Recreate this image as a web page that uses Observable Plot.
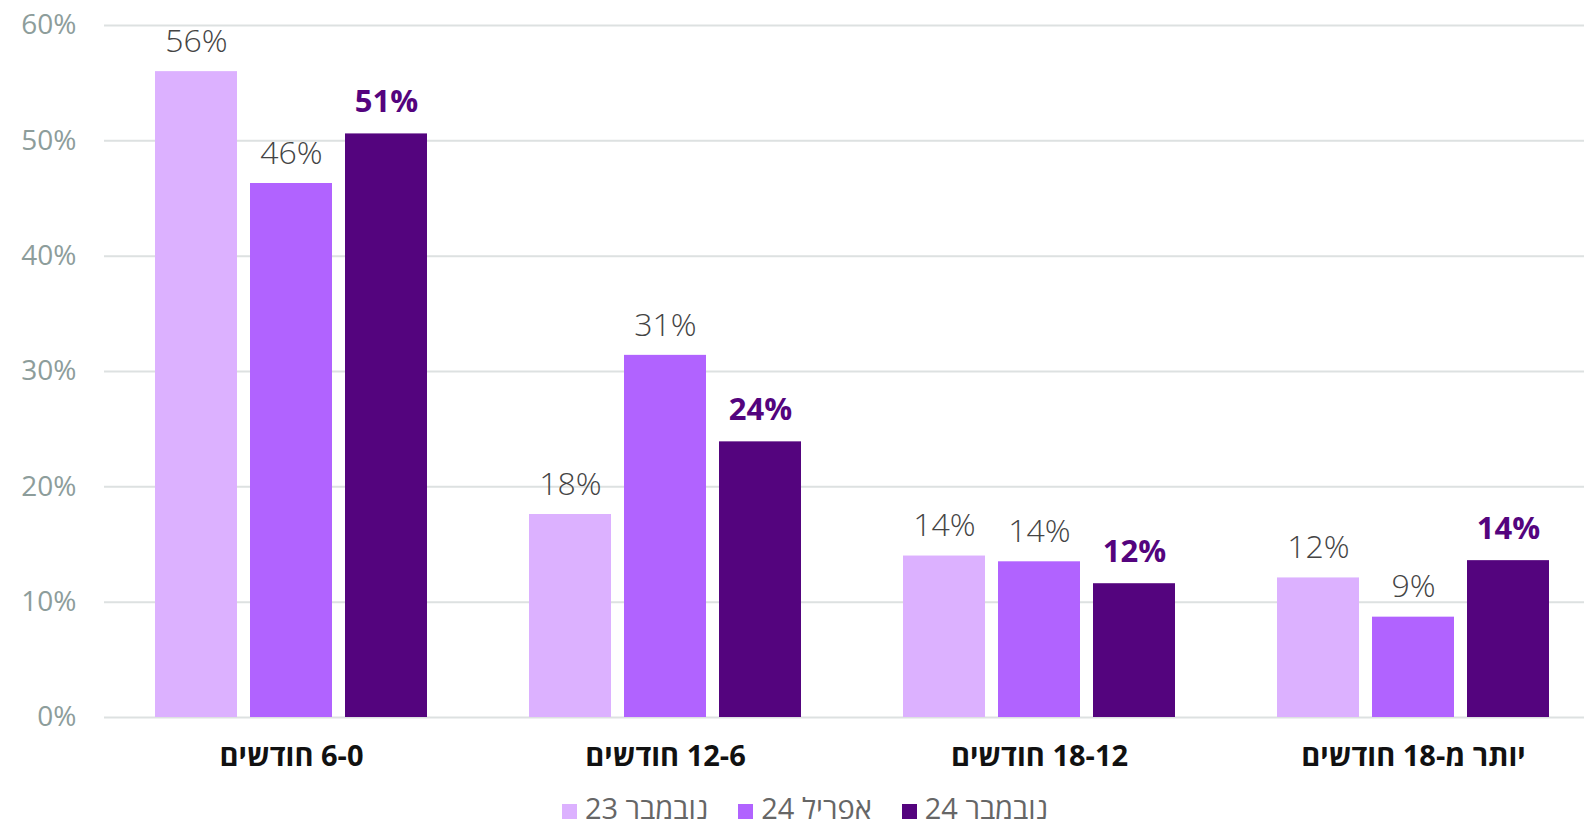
<!DOCTYPE html>
<html>
<head>
<meta charset="utf-8">
<script src="https://cdn.jsdelivr.net/npm/d3@7"></script>
<script src="https://cdn.jsdelivr.net/npm/@observablehq/plot@0.6"></script>
<style>
  html, body { margin: 0; padding: 0; background: #ffffff; overflow: hidden; width: 1584px; }
  #chart { width: 1584px; overflow: hidden; }
  #chart svg { display: block; max-width: none; }
  #legend {
    width: 1584px; height: 35px; line-height: 35px;
    display: flex; justify-content: center; align-items: baseline;
    font-family: 'Open Sans', 'DejaVu Sans', sans-serif; font-size: 29px; color: #666666;
    padding-left: 26px; box-sizing: border-box; white-space: nowrap;
  }
  .item { display: inline-flex; align-items: baseline; margin: 0 15px; }
  .sw { display: inline-block; width: 15px; height: 15px; margin-right: 8px; }
</style>
</head>
<body>
<div id="chart"></div>
<div id="legend"></div>
<script>
const groups = ["6-0 חודשים", "12-6 חודשים", "18-12 חודשים", "יותר מ-18 חודשים"];
const seriesNames = ["נובמבר 23", "אפריל 24", "נובמבר 24"];
const nov23 = [56.0, 17.6, 14.0, 12.1];
const apr24 = [46.3, 31.4, 13.5, 8.7];
const nov24 = [50.6, 23.9, 11.6, 13.6];
const yTicks = [0, 10, 20, 30, 40, 50, 60];
const colors = ["#dcb1ff", "#b163ff", "#54047e"];

const seriesValues = [nov23, apr24, nov24];
const data = [];
groups.forEach((g, i) => {
  seriesNames.forEach((s, j) => {
    data.push({group: g, series: s, value: seriesValues[j][i]});
  });
});
const highlight = seriesNames[2];

const chart = Plot.plot({
  width: 1601,
  height: 790,
  marginLeft: 103,
  marginRight: 0,
  marginTop: 25,
  marginBottom: 73,
  style: {fontFamily: "'Open Sans', 'DejaVu Sans', sans-serif", background: "#ffffff"},
  fx: {domain: groups, paddingInner: 0, paddingOuter: 0, label: null, axis: null},
  x: {domain: seriesNames, paddingInner: 0.1354, paddingOuter: 0.518, axis: null},
  y: {domain: [0, 60], axis: null},
  color: {domain: seriesNames, range: colors},
  marks: [
    Plot.ruleY(yTicks, {y: d => d, stroke: "#dde1e1", strokeWidth: 2}),
    Plot.axisY(yTicks, {tickSize: 0, tickPadding: 28, tickFormat: d => d + "%",
      fontSize: 28, fill: "#8d9d9b", label: null}),
    Plot.barY(data, {fx: "group", x: "series", y: "value", fill: "series"}),
    Plot.text(data.filter(d => d.series !== highlight), {fx: "group", x: "series", y: "value",
      text: d => Math.round(d.value) + "%", dy: -30, fontSize: 32, fontWeight: 300, fill: "#444444"}),
    Plot.text(data.filter(d => d.series === highlight), {fx: "group", x: "series", y: "value",
      text: d => Math.round(d.value) + "%", dy: -32, fontSize: 31, fontWeight: 700, fill: colors[2]}),
    Plot.axisFx({anchor: "bottom", tickSize: 0, tickPadding: 28, fontSize: 29, fontWeight: 700, fill: "#111111", label: null})
  ]
});
document.getElementById("chart").appendChild(chart);
d3.select(chart).selectAll('[aria-label="fx-axis tick label"] text').attr("direction", "rtl");

const legend = d3.select("#legend");
seriesNames.forEach((s, i) => {
  const it = legend.append("span").attr("class", "item");
  it.append("span").attr("class", "sw").style("background", colors[i]);
  it.append("span").attr("dir", "rtl").text(s);
});
</script>
</body>
</html>
